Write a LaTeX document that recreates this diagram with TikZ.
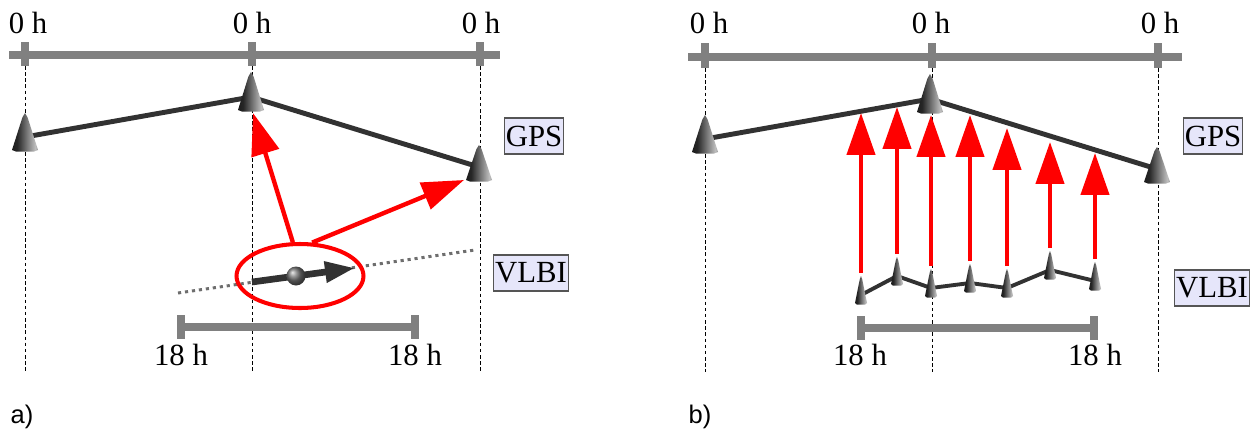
\documentclass[tikz,border=0pt]{standalone}
\usepackage{fontspec}
\setmainfont{Liberation Serif}
\newfontfamily\panelfont{Liberation Sans}
\usetikzlibrary{arrows.meta,shapes.geometric}

\definecolor{bargray}{RGB}{128,128,128}
\definecolor{dotgray}{RGB}{110,110,110}
\definecolor{linkgray}{RGB}{50,50,50}
\definecolor{tagfill}{RGB}{230,230,250}
\definecolor{tagline}{RGB}{85,85,85}

\pgfdeclarehorizontalshading{cone}{100bp}{color(0bp)=(black); color(35bp)=(black!85); color(70bp)=(white!75!black); color(84bp)=(black!70); color(100bp)=(black)}

% antenna cone around a station point: (point)(half width:tip height:base depth)
\def\antenna(#1)(#2:#3:#4){\shade[shading=cone] (#1) ++(-#2,#4) -- ++({0.8*#2},{-0.88*(#3+#4)}) -- ++({0.2*#2},{-0.12*(#3+#4)}) -- ++({0.2*#2},{0.12*(#3+#4)}) -- ++({0.8*#2},{0.88*(#3+#4)}) -- ++({-0.3*#2},1.5) -- ++({-1.4*#2},0) -- cycle;}

\tikzset{
  bar/.style={draw=bargray, line width=4pt},
  guide/.style={black, line width=0.5pt, dash pattern=on 2pt off 1.5pt},
  link/.style={linkgray, line width=2.8pt, line join=round},
  hit/.style={red, line width=2.5pt, -{Triangle[length=0.84cm,width=0.56cm]}},
  tag/.style={draw=tagline, fill=tagfill, line width=0.6pt, inner xsep=1pt, inner ysep=0pt, minimum height=0.72cm, font=\fontsize{17.5}{19}\selectfont},
  hour/.style={anchor=base, inner sep=0pt, font=\fontsize{17.5}{19}\selectfont},
  panel/.style={anchor=base, inner sep=0pt, font=\panelfont\fontsize{14.5}{16}\selectfont}
}

\begin{document}
\begin{tikzpicture}[x=0.02cm, y=-0.02cm, line cap=butt]
  \useasboundingbox (0,0) rectangle (1252,430);

  %%%%% a) %%%%%
  \foreach \x in {25,252,480} \draw[guide] (\x,66) -- (\x,372);
  \draw[bar] (9,55) -- (500,55);
  \foreach \x in {25,252,480} \draw[bar] (\x,42) -- (\x,66);
  \node[hour] (zA1) at (28,33) {0 h};
  \node[hour] (zA2) at (252,33) {0 h};
  \node[hour] (zA3) at (481,33) {0 h};

  \coordinate (gA1) at (25,137);
  \coordinate (gA2) at (251,97);
  \coordinate (gA3) at (479,167);
  \draw[link] (gA1) -- (gA2) -- (gA3);
  \antenna(gA1)(13:24:13)
  \antenna(gA2)(13:25:13)
  \antenna(gA3)(13:22:13)

  % site motion
  \coordinate (dA0) at (178,293);
  \coordinate (dA1) at (475,250);
  \draw[dotgray, line width=1.7pt, dash pattern=on 1.8pt off 2.2pt] (dA0) -- (dA1);
  \node[ellipse, draw=red, line width=2.3pt, minimum width=2.54cm, minimum height=1.28cm, inner sep=0pt] (site) at (300,276) {};
  \coordinate (mA0) at (252,282);
  \coordinate (mA1) at (355,268);
  \draw[linkgray, line width=3.8pt, -{Triangle[length=0.6cm,width=0.4cm]}] (mA0) -- (mA1);
  \shade[ball color=black!55] (296,276) circle (0.19cm);

  \coordinate (hA2) at (253,113);
  \coordinate (hA3) at (464,180);
  \draw[hit] (site.102) -- (hA2);
  \draw[hit] (site.70) -- (hA3);

  \draw[bar] (181,327) -- (415,327);
  \draw[bar] (181,315) -- (181,339);
  \draw[bar] (415,315) -- (415,339);
  \node[hour] (eA1) at (181,365) {18 h};
  \node[hour] (eA2) at (415,365) {18 h};

  \node[tag] (gpsA) at (534,136) {GPS};
  \node[tag] (vlbiA) at (531,273) {VLBI};
  \node[panel] (capA) at (22,423) {a)};

  %%%%% b) %%%%%
  \foreach \x in {705,932,1158} \draw[guide] (\x,68) -- (\x,372);
  \draw[bar] (688,57) -- (1182,57);
  \foreach \x in {705,932,1158} \draw[bar] (\x,43) -- (\x,68);
  \node[hour] (zB1) at (709,33) {0 h};
  \node[hour] (zB2) at (931,33) {0 h};
  \node[hour] (zB3) at (1160,33) {0 h};

  \coordinate (gB1) at (705,139);
  \coordinate (gB2) at (930,99);
  \coordinate (gB3) at (1157,169);
  \draw[link] (gB1) -- (gB2) -- (gB3);

  \coordinate (v1) at (861,295);
  \coordinate (v2) at (897,276);
  \coordinate (v3) at (931,288);
  \coordinate (v4) at (970,283);
  \coordinate (v5) at (1007,288);
  \coordinate (v6) at (1050,270);
  \coordinate (v7) at (1095,281);
  \draw[link, line width=2.2pt] (v1) -- (v2) -- (v3) -- (v4) -- (v5) -- (v6) -- (v7);

  \foreach \i/\t in {1/113,2/107,3/115,4/115,5/128,6/142,7/153}
    \draw[hit] ([yshift=0.44cm]v\i) -- (v\i |- 0,\t);

  \antenna(gB1)(13:24:13)
  \antenna(gB2)(13:25:13)
  \antenna(gB3)(13:22:13)
  \foreach \i in {1,...,7} {\antenna(v\i)(6:19:8)}

  \draw[bar] (861,328) -- (1094,328);
  \draw[bar] (861,316) -- (861,340);
  \draw[bar] (1094,316) -- (1094,340);
  \node[hour] (eB1) at (860,365) {18 h};
  \node[hour] (eB2) at (1095,365) {18 h};

  \node[tag] (gpsB) at (1213,136) {GPS};
  \node[tag] (vlbiB) at (1212,288) {VLBI};
  \node[panel] (capB) at (700,423) {b)};
\end{tikzpicture}
\end{document}
